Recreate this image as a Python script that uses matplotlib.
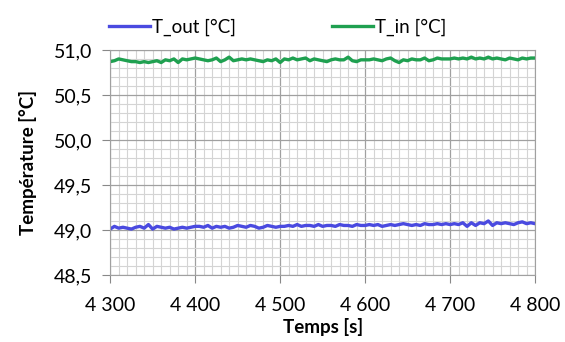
import numpy as np
import matplotlib.pyplot as plt
from matplotlib.ticker import MultipleLocator, FuncFormatter

# temps de mesure (s), un point toutes les 5 s
temps = np.arange(4300, 4801, 5)

t_out = [49.01, 49.04, 49.02, 49.03, 49.02, 49.01, 49.03, 49.04, 49.02, 49.06,
         49.01, 49.04, 49.03, 49.02, 49.03, 49.01, 49.02, 49.03, 49.02, 49.03,
         49.04, 49.04, 49.03, 49.05, 49.02, 49.04, 49.03, 49.04, 49.02, 49.03,
         49.05, 49.04, 49.03, 49.05, 49.04, 49.02, 49.03, 49.05, 49.04, 49.03,
         49.04, 49.04, 49.05, 49.04, 49.06, 49.04, 49.05, 49.05, 49.04, 49.06,
         49.04, 49.05, 49.05, 49.04, 49.06, 49.05, 49.05, 49.04, 49.06, 49.05,
         49.05, 49.06, 49.05, 49.06, 49.04, 49.05, 49.06, 49.05, 49.06, 49.07,
         49.06, 49.05, 49.06, 49.05, 49.07, 49.06, 49.06, 49.07, 49.06, 49.07,
         49.06, 49.07, 49.06, 49.08, 49.04, 49.08, 49.05, 49.08, 49.07, 49.10,
         49.05, 49.08, 49.07, 49.08, 49.07, 49.06, 49.08, 49.09, 49.07, 49.08,
         49.07]

t_in = [50.87, 50.88, 50.90, 50.89, 50.88, 50.87, 50.87, 50.86, 50.87, 50.86,
        50.87, 50.88, 50.86, 50.89, 50.88, 50.90, 50.86, 50.90, 50.89, 50.90,
        50.91, 50.90, 50.89, 50.88, 50.89, 50.91, 50.87, 50.89, 50.92, 50.88,
        50.89, 50.90, 50.89, 50.90, 50.89, 50.88, 50.87, 50.89, 50.88, 50.90,
        50.86, 50.90, 50.89, 50.91, 50.89, 50.90, 50.91, 50.88, 50.90, 50.89,
        50.88, 50.87, 50.89, 50.90, 50.89, 50.89, 50.92, 50.88, 50.87, 50.89,
        50.89, 50.89, 50.90, 50.89, 50.88, 50.90, 50.91, 50.88, 50.86, 50.89,
        50.88, 50.90, 50.89, 50.89, 50.91, 50.88, 50.89, 50.91, 50.90, 50.90,
        50.90, 50.91, 50.90, 50.91, 50.90, 50.92, 50.90, 50.91, 50.90, 50.92,
        50.90, 50.91, 50.90, 50.89, 50.91, 50.90, 50.89, 50.91, 50.90, 50.91,
        50.91]

plt.rcParams['font.family'] = ['Lato', 'DejaVu Sans']

fig = plt.figure(figsize=(5.65, 3.42), dpi=100)
ax = fig.add_axes([0.195, 0.196, 0.752, 0.658])

ax.plot(temps, t_out, color='#4a4ae0', lw=2.4, label='T_out [°C]')
ax.plot(temps, t_in, color='#1fa050', lw=2.4, label='T_in [°C]')

ax.set_xlim(4300, 4800)
ax.set_ylim(48.5, 51.0)
ax.xaxis.set_major_locator(MultipleLocator(100))
ax.xaxis.set_minor_locator(MultipleLocator(10))
ax.yaxis.set_major_locator(MultipleLocator(0.5))
ax.yaxis.set_minor_locator(MultipleLocator(0.1))
ax.xaxis.set_major_formatter(FuncFormatter(lambda v, p: f'{int(v):,}'.replace(',', ' ')))
ax.yaxis.set_major_formatter(FuncFormatter(lambda v, p: f'{v:.1f}'.replace('.', ',')))

ax.grid(which='major', color='#a0a0a0', lw=0.9)
ax.grid(which='minor', color='#d4d4d4', lw=0.8)
ax.set_axisbelow(True)
for s in ax.spines.values():
    s.set_color('#a0a0a0')
ax.tick_params(which='major', length=6, color='#888888', labelsize=14, pad=7)
ax.tick_params(which='minor', length=0)
ax.tick_params(axis='x', pad=10)

ax.set_xlabel('Temps [s]', fontsize=13.5, fontweight='bold', labelpad=3)
ax.set_ylabel('Température [°C]', fontsize=13.5, fontweight='bold', labelpad=12)

ax.legend(loc='lower left', bbox_to_anchor=(-0.02, 1.03), ncol=2, frameon=False,
          fontsize=13.5, handlelength=2.2, handletextpad=0.1, columnspacing=5.1,
          borderaxespad=0)

fig.savefig('out.png', dpi=100)
